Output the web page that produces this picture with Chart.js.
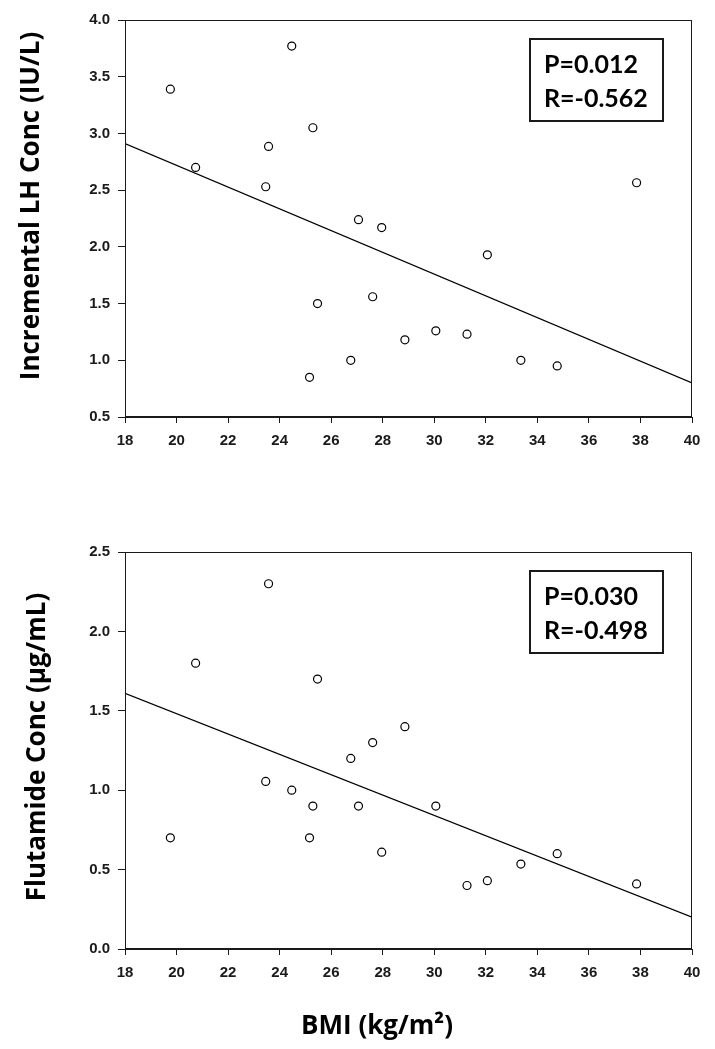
<!DOCTYPE html>
<html>
<head>
<meta charset="utf-8">
<script src="https://cdn.jsdelivr.net/npm/chart.js@4.4.1/dist/chart.umd.min.js"></script>
<style>
  html, body { margin: 0; padding: 0; background: #fff; }
  #wrap { position: relative; width: 715px; height: 1049px; }
  canvas { position: absolute; left: 0; }
  #lhChart { top: 0; }
  #flutChart { top: 532px; }
</style>
</head>
<body>
<div id="wrap">
  <canvas id="lhChart" width="715" height="470"></canvas>
  <canvas id="flutChart" width="715" height="517"></canvas>
</div>
<script>
// BMI of each subject (kg/m2), same subjects in both panels
const bmi = [19.76, 20.74, 23.46, 23.57, 24.47, 25.16, 25.29, 25.47, 26.76, 27.06,
             27.61, 27.96, 28.86, 30.06, 31.27, 32.06, 33.36, 34.77, 37.85];
// incremental LH concentration (IU/L)
const lhConc = [3.39, 2.70, 2.53, 2.885, 3.77, 0.85, 3.05, 1.50, 1.00, 2.24,
                1.56, 2.17, 1.18, 1.26, 1.23, 1.93, 1.00, 0.95, 2.565];
// flutamide concentration (ug/mL)
const flutConc = [0.70, 1.80, 1.055, 2.30, 1.00, 0.70, 0.90, 1.70, 1.20, 0.90,
                  1.30, 0.61, 1.40, 0.90, 0.40, 0.43, 0.535, 0.60, 0.41];

// regression line end points
const fitX = [18, 40];
const lhFit = [2.91, 0.80];
const flutFit = [1.61, 0.20];

const lhStats = ['P=0.012', 'R=-0.562'];
const flutStats = ['P=0.030', 'R=-0.498'];

const lhTitle = 'Incremental LH Conc (IU/L)';
const flutTitle = 'Flutamide Conc (\u00b5g/mL)';
const bmiTitle = 'BMI (kg/m\u00b2)';

const INK = '#1a1a1a';
const tickFont = { family: '"Liberation Sans", Arial, sans-serif', weight: 'bold', size: 15 };
const statsFamily = 'Lato, "Open Sans", sans-serif';
const titleFamily = '"Open Sans", Lato, sans-serif';

// frame, stats box and axis titles
const panelDecor = {
    id: 'panelDecor',
    afterDraw(chart, args, opts) {
        const { ctx, chartArea: a } = chart;
        ctx.save();
        ctx.strokeStyle = INK;
        ctx.lineWidth = 1;
        ctx.strokeRect(Math.round(a.left) + 0.5, Math.round(a.top) + 0.5,
                       Math.round(a.width) - 1, Math.round(a.height) - 1);

        // stats box
        const bx = a.right - 162, by = a.top + 19;
        ctx.lineWidth = 2;
        ctx.strokeRect(bx, by, 133, 82);
        ctx.fillStyle = '#000';
        ctx.font = 'bold 25px ' + statsFamily;
        ctx.textAlign = 'left';
        ctx.textBaseline = 'alphabetic';
        ctx.fillText(opts.stats[0], bx + 14, by + 34);
        ctx.fillText(opts.stats[1], bx + 14, by + 68);

        // y title
        ctx.font = 'bold 26px ' + titleFamily;
        ctx.textAlign = 'center';
        ctx.save();
        ctx.translate(opts.yTitleX, opts.yTitleY);
        ctx.rotate(-Math.PI / 2);
        ctx.fillText(opts.yTitle, 0, 0);
        ctx.restore();

        if (opts.xTitle) {
            ctx.fillText(opts.xTitle, opts.xTitleX, opts.xTitleY);
        }
        ctx.restore();
    }
};

function makeScales(yMin, yMax, xHeight) {
    return {
        x: {
            type: 'linear',
            min: 18,
            max: 40,
            ticks: {
                stepSize: 2,
                padding: 9,
                color: INK,
                font: tickFont,
            },
            grid: { drawOnChartArea: false, tickLength: 6, color: INK },
            border: { color: INK },
            afterFit: (s) => { s.height = xHeight; },
        },
        y: {
            min: yMin,
            max: yMax,
            ticks: {
                stepSize: 0.5,
                padding: 8,
                color: INK,
                font: tickFont,
                callback: (v) => v.toFixed(1),
            },
            grid: { drawOnChartArea: false, tickLength: 7, color: INK },
            border: { color: INK },
            afterFit: (s) => { s.width = 125; },
        },
    };
}

function makeChart(canvasId, values, fit, yMin, yMax, xHeight, decor) {
    const ctx = document.getElementById(canvasId);
    return new Chart(ctx, {
        type: 'scatter',
        data: {
            datasets: [{
                data: bmi.map((b, i) => ({ x: b, y: values[i] })),
                pointRadius: 4,
                pointBorderWidth: 1.2,
                pointBorderColor: '#000',
                pointBackgroundColor: '#fff',
                order: 0,
            }, {
                data: fitX.map((b, i) => ({ x: b, y: fit[i] })),
                showLine: true,
                borderColor: '#000',
                borderWidth: 1.2,
                pointRadius: 0,
                order: 1,
            }],
        },
        options: {
            responsive: false,
            animation: false,
            devicePixelRatio: 1,
            layout: { padding: { top: 20, right: 23, left: 0, bottom: 0 } },
            plugins: {
                legend: { display: false },
                tooltip: { enabled: false },
                panelDecor: decor,
            },
            scales: makeScales(yMin, yMax, xHeight),
        },
        plugins: [panelDecor],
    });
}

makeChart('lhChart', lhConc, lhFit, 0.5, 4.0, 53, {
    stats: lhStats,
    yTitle: lhTitle,
    yTitleX: 39,
    yTitleY: 206,
});

makeChart('flutChart', flutConc, flutFit, 0, 2.5, 100, {
    stats: flutStats,
    yTitle: flutTitle,
    yTitleX: 45,
    yTitleY: 215,
    xTitle: bmiTitle,
    xTitleX: 377,
    xTitleY: 502,
});
</script>
</body>
</html>
